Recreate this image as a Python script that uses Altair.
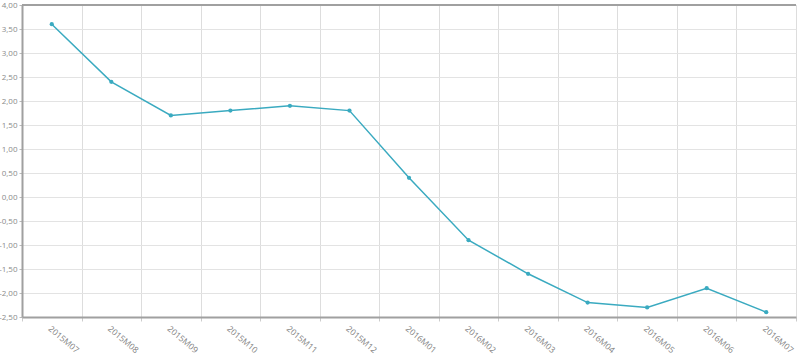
import altair as alt
import pandas as pd

periods = ["2015M07", "2015M08", "2015M09", "2015M10", "2015M11", "2015M12",
           "2016M01", "2016M02", "2016M03", "2016M04", "2016M05", "2016M06", "2016M07"]
values = [3.6, 2.4, 1.7, 1.8, 1.9, 1.8, 0.4, -0.9, -1.6, -2.2, -2.3, -1.9, -2.4]
y_ticks = [-2.5, -2.0, -1.5, -1.0, -0.5, 0.0, 0.5, 1.0, 1.5, 2.0, 2.5, 3.0, 3.5, 4.0]

df = pd.DataFrame({"period": periods, "value": values})

color = "#3aaac0"

x_enc = alt.X("period:N", sort=periods, title=None,
              scale=alt.Scale(paddingInner=0, paddingOuter=0),
              axis=alt.Axis(tickBand="extent", labelAngle=40, labelAlign="left",
                            labelBaseline="top", labelPadding=3,
                            labelOverlap=False, labelBound=False,
                            grid=True, gridColor="#dddddd", gridWidth=1,
                            domainColor="#a0a0a0", domainWidth=2,
                            tickColor="#cccccc", tickSize=4,
                            labelColor="#808080", labelFont="Open Sans",
                            labelFontSize=8.5))
y_enc = alt.Y("value:Q", title=None,
              scale=alt.Scale(domain=[-2.5, 4], nice=False, zero=False),
              axis=alt.Axis(values=y_ticks, tickCount=20,
                            labelExpr="replace(replace(format(datum.value, '.2f'), '.', ','), '\u2212', '-')",
                            labelOverlap=False, labelBound=False,
                            grid=True, gridColor="#e3e3e3", gridWidth=1,
                            domainColor="#a0a0a0", domainWidth=2,
                            tickColor="#bbbbbb", tickSize=3,
                            labelColor="#8a8a8a", labelFont="Open Sans",
                            labelFontSize=8, labelPadding=2))

line = alt.Chart(df).mark_line(color=color, strokeWidth=1.5).encode(x=x_enc, y=y_enc)
pts = alt.Chart(df).mark_point(color=color, filled=True, size=18, opacity=1).encode(
    x=alt.X("period:N", sort=periods), y="value:Q")
top = alt.Chart(df).mark_rule(color="#a0a0a0", strokeWidth=2).encode(
    y=alt.datum(4), x=alt.value(0), x2=alt.value(774))

chart = alt.layer(line, pts, top).properties(
    width=774, height=312,
    padding={"left": 22, "top": 5, "right": 4, "bottom": 37},
    autosize=alt.AutoSizeParams(type="none"),
).configure_view(stroke=None).configure(background="white")

chart.save("out.html", embed_options={"renderer": "svg", "actions": False})
